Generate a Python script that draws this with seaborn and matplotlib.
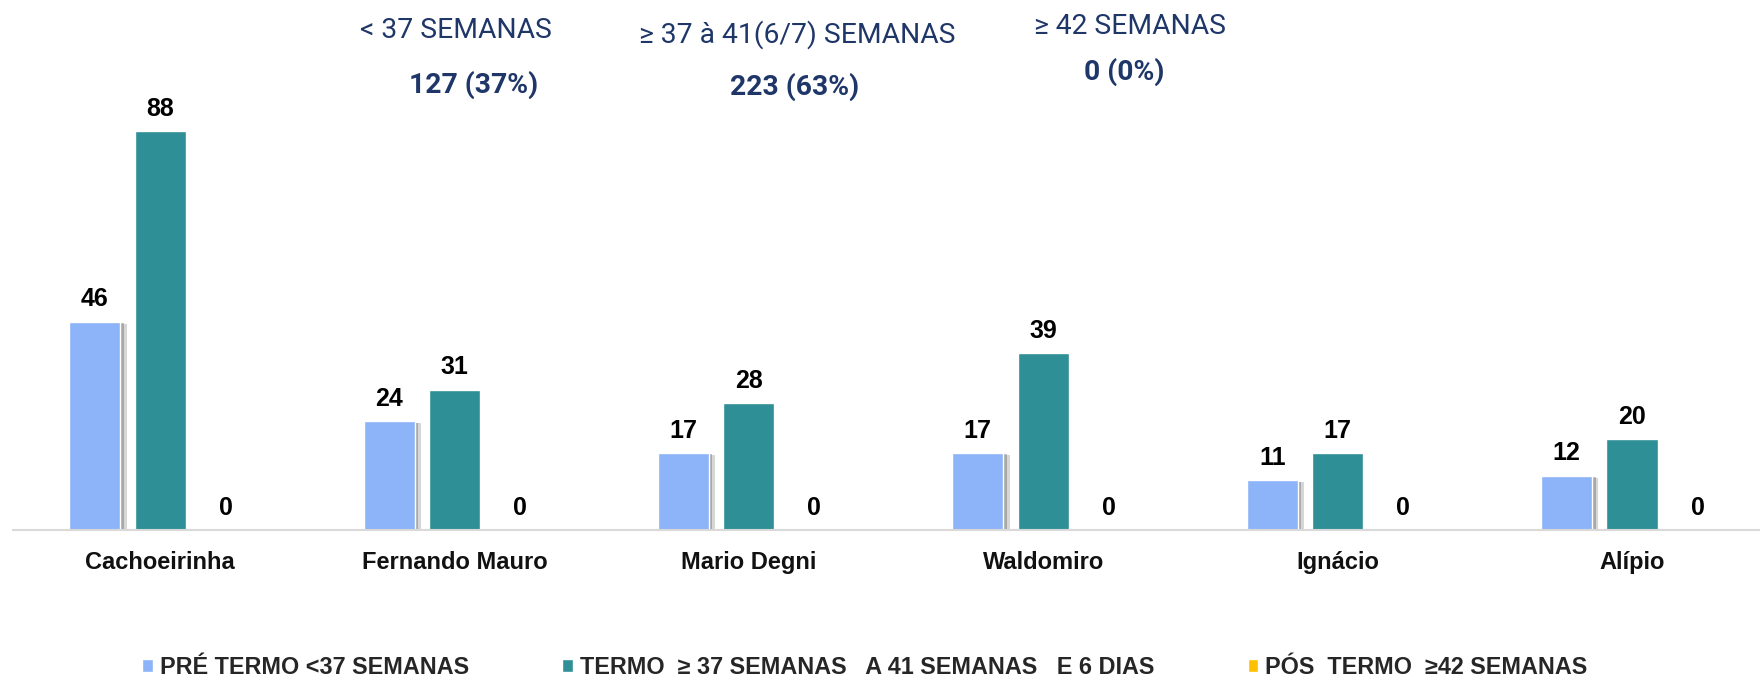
import matplotlib
matplotlib.use("Agg")
import matplotlib.pyplot as plt
import matplotlib.patheffects as pe
import seaborn as sns
import pandas as pd

# ---- data ----
unidades = ["Cachoeirinha", "Fernando Mauro", "Mario Degni", "Waldomiro", "Ignácio", "Alípio"]
grupos = ["PRÉ TERMO <37 SEMANAS",
          "TERMO  ≥ 37 SEMANAS   A 41 SEMANAS   E 6 DIAS",
          "PÓS  TERMO  ≥42 SEMANAS"]
pre_termo = [46, 24, 17, 17, 11, 12]
termo = [88, 31, 28, 39, 17, 20]
pos_termo = [0, 0, 0, 0, 0, 0]
cores = ["#8DB3F8", "#2E8F96", "#FFC000"]

resumo_titulos = ["< 37 SEMANAS", "≥ 37 à 41(6/7) SEMANAS", "≥ 42 SEMANAS"]
resumo_valores = ["127 (37%)", "223 (63%)", "0 (0%)"]

rows = []
for g, vals in zip(grupos, [pre_termo, termo, pos_termo]):
    for u, v in zip(unidades, vals):
        rows.append({"unidade": u, "grupo": g, "valor": v})
df = pd.DataFrame(rows)

sns.set_theme(style="white")
plt.rcParams["font.family"] = ["Liberation Sans", "DejaVu Sans"]

W, H = 1760, 680
fig = plt.figure(figsize=(W / 100, H / 100), dpi=100)
ax = fig.add_axes([13 / W, 150 / H, 1 - 13 / W, 453 / H])

sns.barplot(data=df, x="unidade", y="valor", hue="grupo", palette=cores,
            width=0.667, gap=0.22, saturation=1, ax=ax, legend=True)

ax.set_xlim(-0.5, (W - 160) / 294.4)
ax.set_ylim(0, 100)
ax.set_yticks([])
ax.set_xlabel("")
ax.set_ylabel("")
for s in ["left", "top", "right"]:
    ax.spines[s].set_visible(False)
ax.spines["bottom"].set_color("#D9D9D9")
ax.spines["bottom"].set_linewidth(1.5)
ax.tick_params(axis="x", length=0, pad=15)
for lab in ax.get_xticklabels():
    lab.set_fontsize(17)
    lab.set_fontweight("bold")
    lab.set_color("#111111")

# soft shadow on light-blue bars
for patch in ax.containers[0]:
    patch.set_path_effects([
        pe.SimplePatchShadow(offset=(4.5, -1.5), shadow_rgbFace=(0.55, 0.55, 0.55), alpha=0.35),
        pe.SimplePatchShadow(offset=(2.5, -1), shadow_rgbFace=(0.45, 0.45, 0.45), alpha=0.45),
        pe.Normal()])

for cont in ax.containers:
    ax.bar_label(cont, fmt="{:.0f}", padding=7.5, fontsize=18, fontweight="bold", color="#000000")

# legend
handles, labels = ax.get_legend_handles_labels()
ax.get_legend().remove()
fig.legend(handles, labels, loc="center left", bbox_to_anchor=(142 / W, 1 - 667 / H),
           ncol=3, frameon=False, handlelength=0.46, handleheight=0.46, handletextpad=0.3,
           columnspacing=4.0, borderpad=0, borderaxespad=0,
           prop={"family": ["Liberation Sans", "DejaVu Sans"], "weight": "bold", "size": 16.8})

# summary texts at top
navy = "#1F3668"
tpos = [(456, 31), (797, 35), (1130, 27)]
vpos = [(474, 85), (795, 87), (1124, 72)]
for t, (x, y) in zip(resumo_titulos, tpos):
    fig.text(x / W, 1 - y / H, t, ha="center", va="center", fontsize=20.3, color=navy,
             family=["Roboto", "DejaVu Sans"])
for t, (x, y) in zip(resumo_valores, vpos):
    fig.text(x / W, 1 - y / H, t, ha="center", va="center", fontsize=20.3, color=navy,
             fontweight="bold", family=["Roboto", "DejaVu Sans"])

fig.savefig("out.png", dpi=100, facecolor="white")
